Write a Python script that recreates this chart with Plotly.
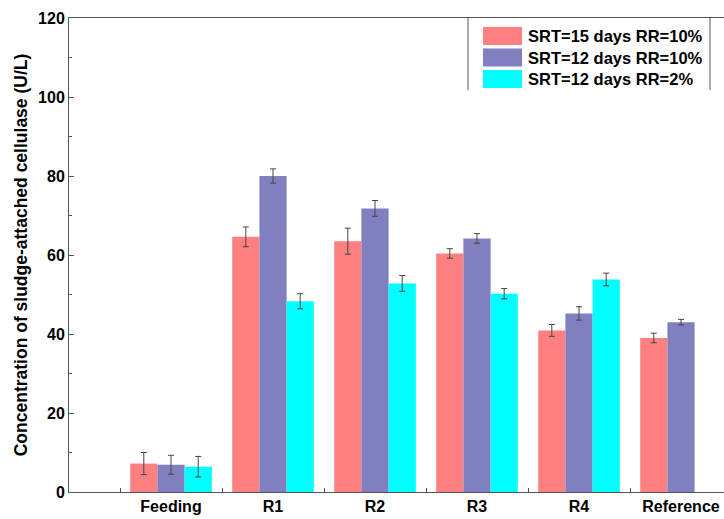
import plotly.graph_objects as go

# Sampling points and group labels
categories = ["Feeding", "R1", "R2", "R3", "R4", "Reference"]
series_names = ["SRT=15 days RR=10%", "SRT=12 days RR=10%", "SRT=12 days RR=2%"]
series_colors = ["#FF8080", "#8080C0", "#00FFFF"]

# Sludge-attached cellulase (U/L) and standard deviations
srt15_rr10 = [7.2, 64.6, 63.5, 60.4, 40.9, 39.0]
srt15_rr10_err = [2.8, 2.5, 3.3, 1.2, 1.5, 1.2]
srt12_rr10 = [6.9, 80.0, 71.8, 64.2, 45.2, 43.0]
srt12_rr10_err = [2.4, 1.8, 2.0, 1.2, 1.7, 0.7]
srt12_rr2 = [6.4, 48.3, 52.8, 50.2, 53.8, None]
srt12_rr2_err = [2.6, 1.9, 2.0, 1.3, 1.6, None]

values = [srt15_rr10, srt12_rr10, srt12_rr2]
errors = [srt15_rr10_err, srt12_rr10_err, srt12_rr2_err]

FONT = "Liberation Sans, Arial, sans-serif"
W, H = 724, 519
L, R, T, B = 69, 0, 18, 27

positions = list(range(len(categories)))

fig = go.Figure()
for name, vals, errs, col in zip(series_names, values, errors, series_colors):
    fig.add_trace(go.Bar(
        x=positions, y=vals, name=name,
        marker=dict(color=col, line=dict(width=0)),
        error_y=dict(type="data", array=errs, visible=True,
                     color="#444444", thickness=1, width=3),
        showlegend=False,
    ))


def px_x(p):
    return (p - L) / (W - L - R)


def px_y(p):
    return 1 - (p - T) / (H - T - B)


# Legend panel: side rules, colour swatches and labels
shapes = [
    dict(type="line", xref="paper", yref="paper",
         x0=px_x(468), x1=px_x(468), y0=px_y(18), y1=px_y(90),
         line=dict(color="#555555", width=1)),
    dict(type="line", xref="paper", yref="paper",
         x0=px_x(710), x1=px_x(710), y0=px_y(18), y1=px_y(90),
         line=dict(color="#555555", width=1)),
]
annotations = []
row_centers = [36, 57.5, 79]
for name, col, yc in zip(series_names, series_colors, row_centers):
    shapes.append(dict(type="rect", xref="paper", yref="paper",
                       x0=px_x(483), x1=px_x(522),
                       y0=px_y(yc - 9), y1=px_y(yc + 9),
                       fillcolor=col, line=dict(width=0)))
    annotations.append(dict(xref="paper", yref="paper",
                            x=px_x(526), y=px_y(yc), xanchor="left",
                            yanchor="middle", text=name, showarrow=False,
                            font=dict(family=FONT, size=16.5, color="black",
                                      weight="bold")))

fig.update_layout(
    width=W, height=H,
    margin=dict(l=L, r=R, t=T, b=B, pad=0),
    paper_bgcolor="white", plot_bgcolor="white",
    barmode="group", bargap=0.2, bargroupgap=0,
    shapes=shapes, annotations=annotations,
    font=dict(family=FONT, color="black"),
)

fig.update_xaxes(
    range=[-1, -1 + (W - L - R) / 102],
    tickmode="array", tickvals=positions, ticktext=categories,
    ticks="", showgrid=False, zeroline=False,
    showline=True, linecolor="#555555", linewidth=1, mirror=True,
    tickfont=dict(family=FONT, size=16, color="black", weight="bold"),
    minor=dict(ticks="inside", tick0=-0.5, dtick=1, ticklen=4,
               tickcolor="#555555", showgrid=False),
)

fig.update_yaxes(
    range=[0, 120], dtick=20, tick0=0,
    ticks="inside", ticklen=5, tickcolor="#555555",
    showgrid=False, zeroline=False,
    showline=True, linecolor="#555555", linewidth=1,
    tickfont=dict(family=FONT, size=16, color="black", weight="bold"),
    minor=dict(ticks="inside", dtick=10, ticklen=3, tickcolor="#555555",
               showgrid=False),
    title=dict(text="Concentration of sludge-attached cellulase (U/L)",
               font=dict(family=FONT, size=17.5, color="black", weight="bold"),
               standoff=5),
)

fig.write_html("out.html")
